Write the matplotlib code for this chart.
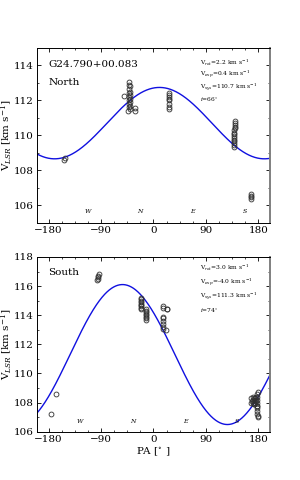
import numpy as np
import matplotlib
matplotlib.use("Agg")
import matplotlib.pyplot as plt
from matplotlib.ticker import MultipleLocator

plt.rcParams['font.family'] = ['DejaVu Serif']
plt.rcParams['mathtext.fontset'] = 'dejavuserif'

# ---------------- data ----------------
source_name = "G24.790+00.083"
north_pa = [-153, -151,
            -51, -42, -42, -41, -42, -41, -42, -41, -42, -41, -42, -41, -42, -41, -42, -41, -43, -32, -32,
            27, 27, 27, 27, 27, 27, 27, 27,
            140, 140, 140, 140, 140, 139, 138, 138, 138, 139, 139, 138, 138, 138, 138,
            167, 167, 167, 167]
north_v = [108.6, 108.7,
           112.25, 113.05, 112.9, 112.8, 112.65, 112.5, 112.4, 112.3, 112.2, 112.1, 112.0, 111.9, 111.8, 111.7, 111.6, 111.5, 111.4, 111.55, 111.4,
           112.4, 112.3, 112.2, 112.1, 112.0, 111.8, 111.6, 111.5,
           110.85, 110.7, 110.6, 110.5, 110.4, 110.3, 110.15, 110.05, 109.95, 109.85, 109.75, 109.65, 109.55, 109.45, 109.35,
           106.65, 106.55, 106.45, 106.35]
south_pa = [-176, -167,
            -97, -96, -95, -95, -94,
            -22, -22, -22, -22, -22, -22, -22, -22, -22,
            -12, -12, -12, -12, -12, -12, -12, -12,
            16, 16, 24, 24, 16, 16, 16, 16, 16, 16, 22,
            168, 169, 170, 171, 172, 173, 174, 175, 176, 177, 168, 170, 172, 174, 176, 178,
            178, 178, 178, 178, 178, 178, 178, 179, 179, 179]
south_v = [107.2, 108.62,
           116.4, 116.5, 116.6, 116.7, 116.8,
           115.2, 115.1, 115.0, 114.9, 114.8, 114.7, 114.6, 114.5, 114.4,
           114.4, 114.3, 114.2, 114.1, 114.0, 113.9, 113.8, 113.7,
           114.6, 114.5, 114.45, 114.4, 113.9, 113.8, 113.6, 113.4, 113.2, 113.05, 113.0,
           108.3, 108.1, 108.4, 108.0, 108.3, 107.9, 108.2, 108.0, 108.4, 107.8, 108.0, 108.2, 107.9, 108.3, 108.1, 108.6,
           108.4, 108.2, 108.0, 107.8, 107.6, 107.4, 107.2, 107.1, 107.0, 108.7]

# model parameters: Vrot, Vexp, Vsys, inclination
north_params = dict(vrot=2.2, vexp=0.4, vsys=110.7, inc=66)
south_params = dict(vrot=3.0, vexp=-4.0, vsys=111.3, inc=74)

dir_labels = ["W", "N", "E", "S"]
north_dir_pa = [-112.5, -22.5, 67.5, 157.5]
south_dir_pa = [-126, -36, 54, 144]

xticks = [-180, -90, 0, 90, 180]


def model(pa, p):
    t = np.radians(pa)
    return p['vsys'] + np.sin(np.radians(p['inc'])) * (p['vrot'] * np.cos(t) + p['vexp'] * np.sin(t))


fig = plt.figure(figsize=(3.0, 4.8), dpi=100)
ax1 = fig.add_axes([0.123, 0.536, 0.777, 0.364])
ax2 = fig.add_axes([0.123, 0.1006, 0.777, 0.364])

pa_grid = np.linspace(-200, 200, 800)

panels = [
    (ax1, north_pa, north_v, north_params, (105, 115), north_dir_pa, 105.67, "North",
     [0.916, 0.851, 0.778, 0.702]),
    (ax2, south_pa, south_v, south_params, (106, 118), south_dir_pa, 106.67, "South",
     [0.935, 0.853, 0.773, 0.691]),
]

for ax, pa, v, p, ylim, dpa, dy, name, ann_y in panels:
    ax.plot(pa_grid, model(pa_grid, p), color='#1010e0', lw=1.0, zorder=2)
    ax.plot(pa, v, 'o', mfc='none', mec='#303030', mew=0.6, ms=3.5, zorder=3)
    ax.set_xlim(-200, 200)
    ax.set_ylim(*ylim)
    ax.set_xticks(xticks)
    ax.xaxis.set_minor_locator(MultipleLocator(22.5))
    ax.yaxis.set_major_locator(MultipleLocator(2))
    ax.yaxis.set_minor_locator(MultipleLocator(1))
    ax.tick_params(which='both', direction='in', top=True, right=True, labelsize=7.5, pad=2.5)
    ax.tick_params(which='major', length=3, width=0.6)
    ax.tick_params(which='minor', length=1.5, width=0.5)
    for s in ax.spines.values():
        s.set_linewidth(0.7)
    ax.spines['right'].set_color('#808080')
    ax.spines['right'].set_linewidth(1.4)
    for lab, x in zip(dir_labels, dpa):
        ax.text(x, dy, lab, fontsize=4.5, style='italic', ha='center', va='center')
    ax.text(0.05, 0.80 if name == "North" else 0.912, name, transform=ax.transAxes,
            fontsize=7.5, ha='left', va='center')
    ax.set_ylabel(r'V$_{LSR}$ [km s$^{-1}$]', fontsize=7.5)
    ax.yaxis.set_label_coords(-0.095, 0.5)
    txts = [r'V$_{rot}$=%.1f km s$^{-1}$' % p['vrot'],
            r'V$_{exp}$=%.1f km s$^{-1}$' % p['vexp'],
            r'V$_{sys}$=%.1f km s$^{-1}$' % p['vsys'],
            r'$i$=%d$^{\circ}$' % p['inc']]
    for t, yy in zip(txts, ann_y):
        ax.text(0.70, yy, t, transform=ax.transAxes, fontsize=4.3, ha='left', va='center')

ax1.text(0.05, 0.903, source_name, transform=ax1.transAxes, fontsize=7.5, ha='left', va='center')
ax2.set_xlabel(r'PA [$^{\circ}$ ]', fontsize=7.5, labelpad=1)

fig.savefig('out.png', dpi=100)
